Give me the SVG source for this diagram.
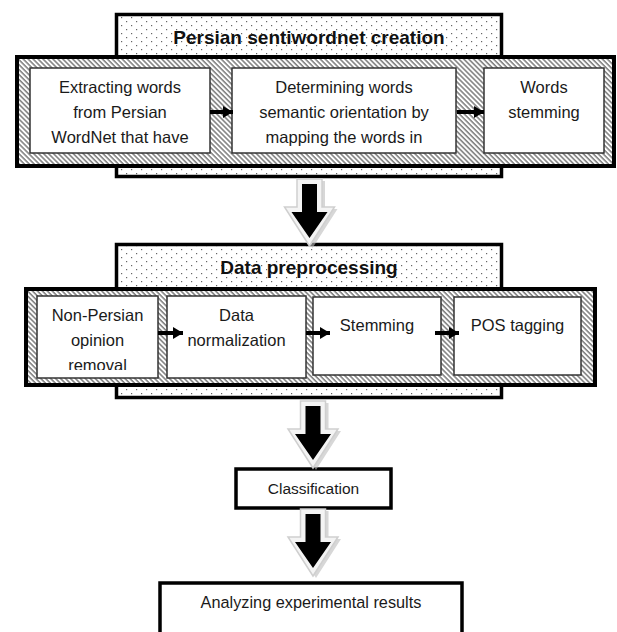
<svg xmlns="http://www.w3.org/2000/svg" width="617" height="632" viewBox="0 0 617 632">
<style>
.txt{font-family:"Liberation Sans",Arial,sans-serif;font-size:16.5px;fill:#1a1a1a;text-anchor:middle}
.ttl{font-family:"Liberation Sans",Arial,sans-serif;font-size:19px;font-weight:bold;fill:#111;text-anchor:middle}
.dot{fill:url(#dots);stroke:#000;stroke-width:3.5}
.hat{fill:url(#hatch);stroke:#000;stroke-width:4}
.box{fill:#fff;stroke:#333;stroke-width:1.5}
.bbox{fill:#fff;stroke:#000;stroke-width:3.5}
.sa{stroke:#000;stroke-width:4;fill:none;marker-end:url(#head)}
</style>
<defs>
<pattern id="dots" patternUnits="userSpaceOnUse" width="10" height="8">
<rect width="10" height="8" fill="#fff"/>
<rect x="1" y="1" width="1.2" height="1.2" fill="#666"/>
<rect x="6" y="5" width="1.2" height="1.2" fill="#666"/>
</pattern>
<pattern id="hatch" patternUnits="userSpaceOnUse" width="3.5" height="3.5" patternTransform="rotate(45)">
<rect width="3.5" height="3.5" fill="#fff"/>
<line x1="0" y1="0.8" x2="3.5" y2="0.8" stroke="#666" stroke-width="1.3"/>
</pattern>
<marker id="head" markerUnits="userSpaceOnUse" markerWidth="11" markerHeight="12" refX="10" refY="6" orient="auto">
<path d="M0,0 L10,6 L0,12 z" fill="#000"/>
</marker>
<g id="bigArrow">
<polygon points="-12.5,0 12.5,0 12.5,28 25,28 0,67 -25,28 -12.5,28" transform="translate(3,2)" fill="#bdbdbd" opacity="0.6"/>
<polygon points="-12.5,0 12.5,0 12.5,28 25,28 0,67 -25,28 -12.5,28" fill="#f4f4f4" stroke="#cfcfcf" stroke-width="1.5"/>
<polygon points="-7.5,5 7.5,5 7.5,33 18,33 0,59 -18,33 -7.5,33" fill="#000"/>
</g>
<clipPath id="clipNP"><rect x="37" y="296" width="121" height="74"/></clipPath>
</defs>

<g id="sentiwordnet">
<rect class="dot" x="116.5" y="14.5" width="385" height="162"/>
<text class="ttl" x="309" y="44">Persian sentiwordnet creation</text>
<rect class="hat" x="17" y="57" width="597" height="109"/>
</g>
<g id="extract">
<rect class="box" x="30" y="68" width="180" height="85"/>
<text class="txt" x="120" y="93">Extracting words</text>
<text class="txt" x="120" y="118">from Persian</text>
<text class="txt" x="120" y="143">WordNet that have</text>
</g>
<g id="orientation">
<rect class="box" x="232" y="68" width="224" height="85"/>
<text class="txt" x="344" y="93">Determining words</text>
<text class="txt" x="344" y="118">semantic orientation by</text>
<text class="txt" x="344" y="143">mapping the words in</text>
</g>
<g id="wstemming">
<rect class="box" x="484" y="68" width="120" height="85"/>
<text class="txt" x="544" y="93">Words</text>
<text class="txt" x="544" y="118">stemming</text>
</g>

<g id="preprocessing">
<rect class="dot" x="116.5" y="244.5" width="385" height="153"/>
<text class="ttl" x="309" y="274">Data preprocessing</text>
<rect class="hat" x="26" y="289" width="569" height="96"/>
</g>
<g id="nonpersian">
<rect class="box" x="37" y="296" width="121" height="82"/>
<g clip-path="url(#clipNP)">
<text class="txt" x="97.5" y="321">Non-Persian</text>
<text class="txt" x="97.5" y="346">opinion</text>
<text class="txt" x="97.5" y="371">removal</text>
</g>
</g>
<g id="normalization">
<rect class="box" x="167" y="296" width="139" height="82"/>
<text class="txt" x="236.5" y="321">Data</text>
<text class="txt" x="236.5" y="346">normalization</text>
</g>
<g id="stemming">
<rect class="box" x="313" y="297" width="128" height="78"/>
<text class="txt" x="377" y="331">Stemming</text>
</g>
<g id="pos">
<rect class="box" x="454" y="297" width="127" height="78"/>
<text class="txt" x="517.5" y="331">POS tagging</text>
</g>

<g id="classification">
<rect class="bbox" x="236" y="469" width="155" height="39"/>
<text class="txt" x="313.5" y="494" style="font-size:15.5px">Classification</text>
</g>
<g id="analyzing">
<rect class="bbox" x="160" y="583" width="302" height="60"/>
<text class="txt" x="311" y="608" style="font-size:16.3px">Analyzing experimental results</text>
</g>

<g id="connectors">
<line class="sa" x1="210" y1="112" x2="233" y2="112"/>
<line class="sa" x1="457" y1="112" x2="484" y2="112"/>
<line class="sa" x1="158" y1="333" x2="183" y2="333"/>
<line class="sa" x1="306" y1="333" x2="330" y2="333"/>
<line class="sa" x1="435" y1="333" x2="459" y2="333"/>
<use href="#bigArrow" transform="translate(309.5,179)"/>
<use href="#bigArrow" transform="translate(313,401)"/>
<use href="#bigArrow" transform="translate(313,509)"/>
</g>
</svg>
